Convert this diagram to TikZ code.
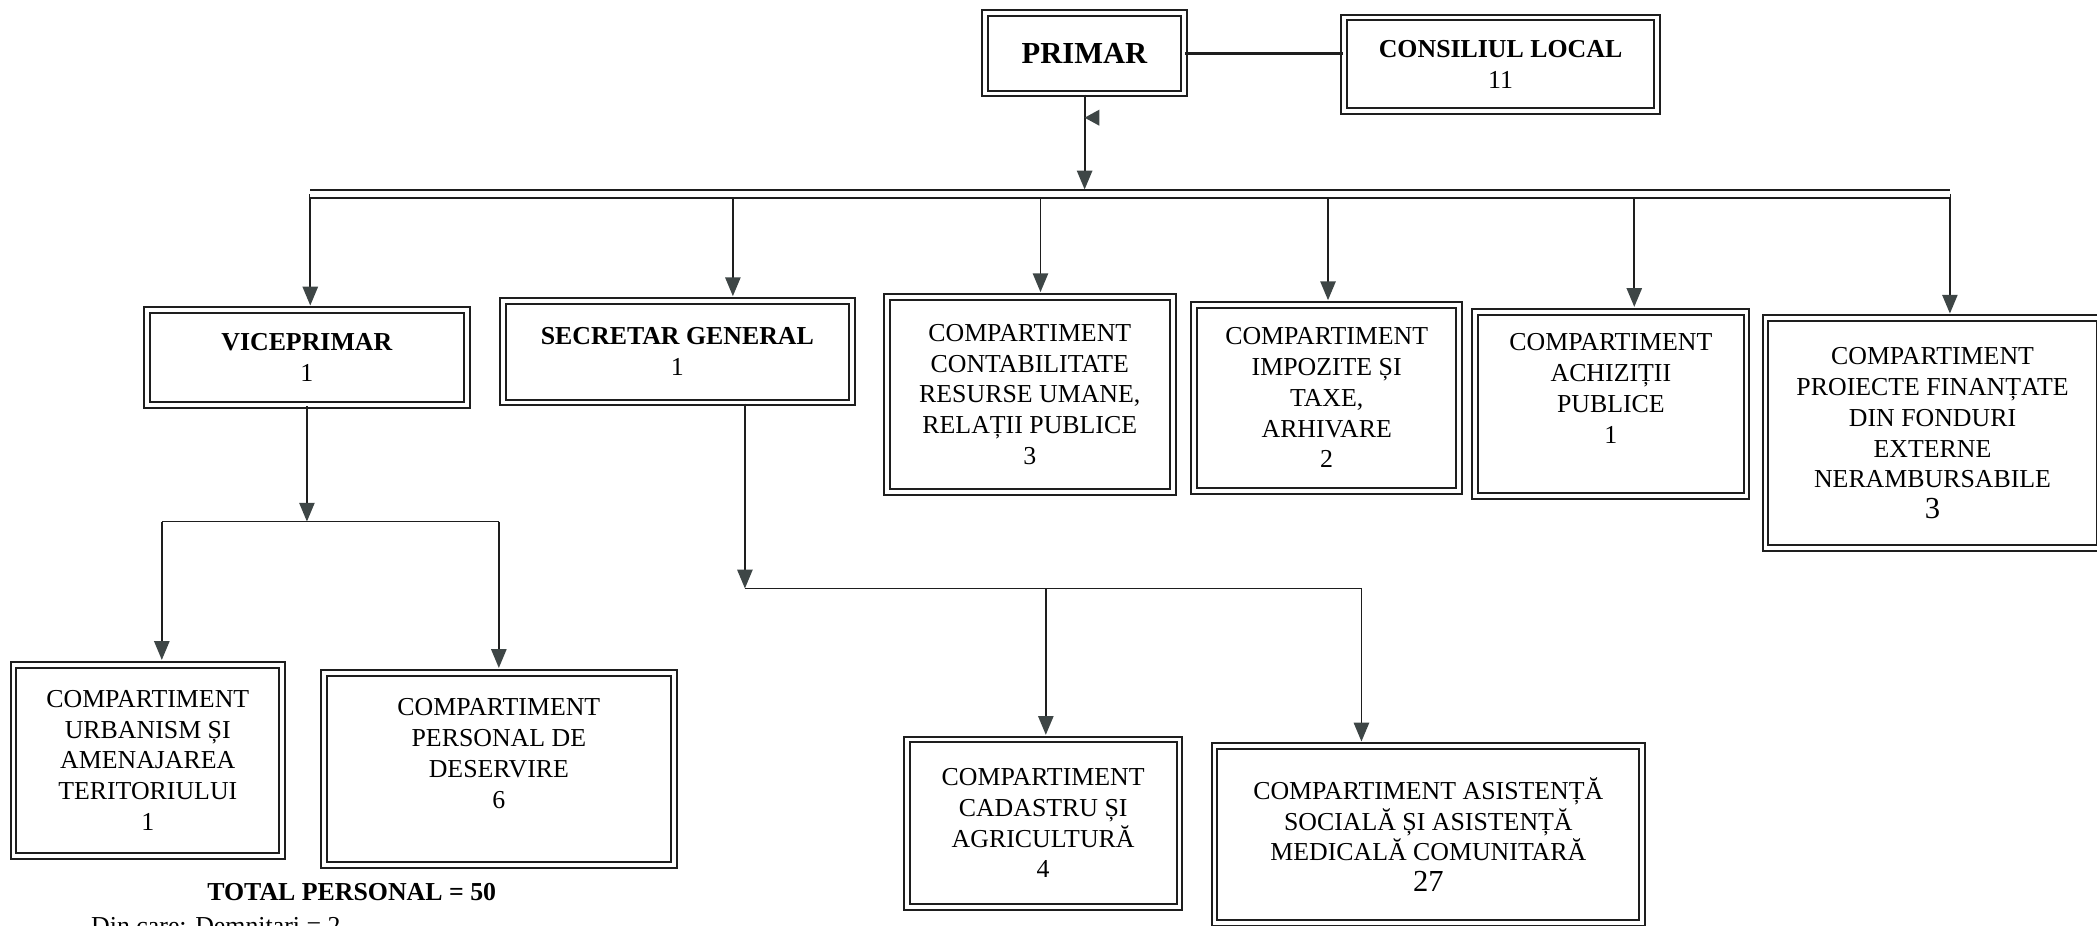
\documentclass[tikz,border=0pt]{standalone}
\usepackage{fontspec}
\setmainfont{Liberation Serif}
\usepackage{tikz}
\usetikzlibrary{arrows.meta}
\usetikzlibrary{positioning}
\definecolor{tipgray}{HTML}{3E4646}
\definecolor{inkline}{HTML}{1E1E1E}
\tikzset{>={Triangle[width=6.5pt,length=8pt,color=tipgray]}}
\tikzset{
  unitbox/.style={draw=inkline, double, double distance=1.6pt, line width=0.85pt, align=center, inner sep=2pt, font=\fontsize{11}{13.1}\selectfont},
  link/.style={draw=inkline, line width=0.75pt},
  drop/.style={link, ->, shorten >=1.6pt},
  bus/.style={draw=inkline, double, double distance=2.4pt, line width=0.85pt}
}

\begin{document}
\begin{tikzpicture}[x=0.02cm, y=-0.02cm]
        \useasboundingbox (0,0) rectangle (1568,692);

        \node[unitbox, minimum width=2.98cm, minimum height=1.2cm] (primar) at (811,40) {\fontsize{13}{15}\selectfont\textbf{PRIMAR}};
        \node[unitbox, minimum width=4.68cm, minimum height=1.4cm] (consiliu) at (1122,48) {\textbf{CONSILIUL LOCAL}\\11};

        \node[unitbox, minimum width=4.78cm, minimum height=1.42cm] (viceprimar) at (229.5,267.5) {\textbf{VICEPRIMAR}\\1};
        \node[unitbox, minimum width=5.22cm, minimum height=1.52cm] (secretar) at (506.5,263) {\textbf{SECRETAR GENERAL}\\1};
        \node[unitbox, minimum width=4.28cm, minimum height=2.92cm] (contab) at (770,295) {COMPARTIMENT\\CONTABILITATE\\RESURSE UMANE,\\RELAȚII PUBLICE\\3};
        \node[unitbox, minimum width=3.96cm, minimum height=2.78cm] (impozite) at (992,297.5) {COMPARTIMENT\\IMPOZITE ȘI\\TAXE,\\ARHIVARE\\2};
        \node[unitbox, minimum width=4.06cm, minimum height=2.76cm] (achizitii) at (1204.5,302) {COMPARTIMENT\\ACHIZIȚII\\PUBLICE\\1\\ \mbox{}};
        \node[unitbox, minimum width=5.0cm, minimum height=3.44cm] (proiecte) at (1445,324) {COMPARTIMENT\\PROIECTE FINANȚATE\\DIN FONDURI\\EXTERNE\\NERAMBURSABILE\\{\fontsize{13}{15}\selectfont 3}};

        \node[unitbox, minimum width=4.02cm, minimum height=2.86cm] (urbanism) at (110.5,568.5) {COMPARTIMENT\\URBANISM ȘI\\AMENAJAREA\\TERITORIULUI\\1};
        \node[unitbox, minimum width=5.24cm, minimum height=2.88cm] (deservire) at (373,575) {COMPARTIMENT\\PERSONAL DE\\DESERVIRE\\6\\ \mbox{}};
        \node[unitbox, minimum width=4.08cm, minimum height=2.5cm] (cadastru) at (780,615.5) {COMPARTIMENT\\CADASTRU ȘI\\AGRICULTURĂ\\4};
        \node[unitbox, minimum width=6.4cm, minimum height=2.64cm] (asistenta) at (1068,624) {COMPARTIMENT ASISTENȚĂ\\SOCIALĂ ȘI ASISTENȚĂ\\MEDICALĂ COMUNITARĂ\\{\fontsize{13}{15}\selectfont 27}};

        \node[font=\fontsize{11}{13}\selectfont\bfseries] (total) at (263,667) {TOTAL PERSONAL = 50};
        \node[anchor=base west, font=\fontsize{11}{13}\selectfont] (dincare) at (62,699) {Din care: Demnitari = 2};

        \draw[link, line width=1.4pt] (primar.east) -- (primar.east -| consiliu.west);

        \coordinate (busL) at (232,145);
        \coordinate (busR) at (1458,145);
        \draw[link, ->, shorten >=1.9pt] (primar.south) -- (primar.south |- busL);
        \coordinate (mark) at (811,88);
        \fill[tipgray] (mark) -- ++(11,-6) -- ++(0,12) -- cycle;

        \foreach \x/\n in {232/viceprimar, 548/secretar, 778/contab, 993/impozite, 1222/achizitii, 1458/proiecte}{
            \coordinate (top\n) at (\x,145);
            \draw[drop] (top\n) -- (top\n |- \n.north);
        }
        \draw[bus] (busL) -- (busR);

        \coordinate (vpbar) at (229.5,390);
        \coordinate (vpL) at (121,390);
        \coordinate (vpR) at (373,390);
        \draw[link, ->] (viceprimar.south) -- (vpbar);
        \draw[link] (vpL) -- (vpR);
        \draw[drop] (vpL) -- (vpL |- urbanism.north);
        \draw[drop] (vpR) -- (vpR |- deservire.north);

        \coordinate (sgL) at (557,440);
        \coordinate (sgM) at (782,440);
        \coordinate (sgR) at (1018,440);
        \draw[link, ->] (sgL |- secretar.south) -- (sgL);
        \draw[link] (sgL) -- (sgR);
        \draw[drop] (sgM) -- (sgM |- cadastru.north);
        \draw[drop] (sgR) -- (sgR |- asistenta.north);
\end{tikzpicture}
\end{document}
